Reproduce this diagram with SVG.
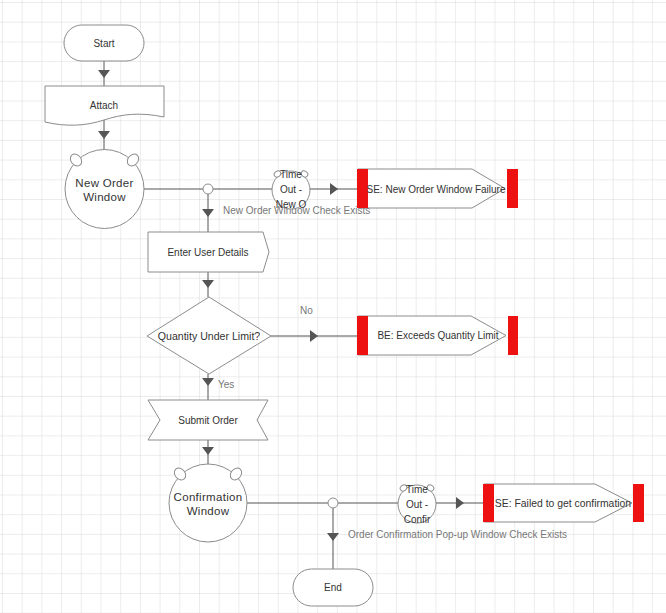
<svg xmlns="http://www.w3.org/2000/svg" width="666" height="613" viewBox="0 0 666 613">
<defs>
<pattern id="grid" x="2" y="2" width="19.7" height="19.7" patternUnits="userSpaceOnUse">
<path d="M0,0 H19.7 M0,0 V19.7" fill="none" stroke="#d9d9d9" stroke-width="1"/>
</pattern>
</defs>
<style>
.shape{fill:#fff;stroke:#8c8c8c;stroke-width:1}
.ear{fill:#fff;stroke:#8c8c8c;stroke-width:1}
.line{fill:none;stroke:#555;stroke-width:1}
.head{fill:#555;stroke:none}
.red{fill:#ee1111;stroke:none}
.t{font-family:"Liberation Sans",Arial,sans-serif;font-size:10px;fill:#333;text-anchor:middle;dominant-baseline:central}
.c{font-size:11.5px;letter-spacing:0.3px}
.lbl{font-family:"Liberation Sans",Arial,sans-serif;font-size:10px;fill:#777;dominant-baseline:central}
</style>
<rect width="666" height="613" fill="#fff"/>
<rect width="666" height="613" fill="url(#grid)"/>

<g id="connectors">
<path class="line" d="M104,61 V88"/>
<polygon class="head" points="98,70 110,70 104,78"/>
<path class="line" d="M104,119 V150"/>
<polygon class="head" points="98,131 110,131 104,139"/>
<path class="line" d="M144,189 H203 M213,189 H272 M310,189 H357"/>
<polygon class="head" points="330,183 338,189 330,195"/>
<path class="line" d="M208,194 V232"/>
<polygon class="head" points="202,209 214,209 208,217"/>
<text class="lbl" x="223" y="210">New Order Window Check Exists</text>
<path class="line" d="M208,272 V297"/>
<polygon class="head" points="202,280 214,280 208,288"/>
<path class="line" d="M271,336 H357"/>
<polygon class="head" points="310,330 318,336 310,342"/>
<text class="lbl" x="300" y="310">No</text>
<path class="line" d="M208,374 V400"/>
<polygon class="head" points="202,378 214,378 208,386"/>
<text class="lbl" x="218" y="384">Yes</text>
<path class="line" d="M208,440 V464"/>
<polygon class="head" points="202,447 214,447 208,455"/>
<path class="line" d="M247,503 H328 M338,503 H398 M436,503 H483"/>
<polygon class="head" points="456,497 464,503 456,509"/>
<path class="line" d="M333,508 V569"/>
<polygon class="head" points="327,533 339,533 333,541"/>
<text class="lbl" x="348" y="534">Order Confirmation Pop-up Window Check Exists</text>
</g>

<g id="start">
<rect class="shape" x="64" y="25" width="80" height="36" rx="18"/>
<text class="t" x="104" y="43">Start</text>
</g>

<g id="attach">
<path class="shape" d="M45,86 H164 V117 C140,112 122,114 104,120 C86,126 66,127 45,122 Z"/>
<text class="t" x="104" y="105">Attach</text>
</g>

<g id="new-order-window">
<circle class="shape" cx="104.5" cy="189" r="39.5"/>
<ellipse class="ear" cx="76" cy="160" rx="5" ry="6.5" transform="rotate(-40 76 160)"/>
<ellipse class="ear" cx="133" cy="160" rx="5" ry="6.5" transform="rotate(40 133 160)"/>
<text class="t c" x="104.5" y="183">New Order</text>
<text class="t c" x="104.5" y="197">Window</text>
</g>

<g id="junction-1">
<circle class="shape" cx="208" cy="189" r="5"/>
</g>

<g id="timeout-1">
<circle class="shape" cx="291" cy="190" r="19"/>
<ellipse class="ear" cx="277.5" cy="174" rx="3.5" ry="2.8" transform="rotate(-35 277.5 174)"/>
<ellipse class="ear" cx="304.5" cy="174" rx="3.5" ry="2.8" transform="rotate(35 304.5 174)"/>
<text class="t" x="291" y="174">Time</text>
<text class="t" x="291" y="189">Out -</text>
<text class="t" x="291" y="204">New O</text>
</g>

<g id="se-new-order-window-failure">
<path class="shape" d="M358,169 H472 L505,188.5 L472,208 H358 Z"/>
<rect class="red" x="357" y="169" width="11" height="39"/>
<rect class="red" x="507" y="169" width="11" height="39"/>
<text class="t" x="436" y="189">SE: New Order Window Failure</text>
</g>

<g id="enter-user-details">
<path class="shape" d="M148,232 H263 L269,252 L263,272 H148 Z"/>
<text class="t" x="208" y="252">Enter User Details</text>
</g>

<g id="quantity-under-limit">
<polygon class="shape" points="209,297 271,336 209,374 147,336"/>
<text class="t" x="209" y="336" style="font-size:10.6px">Quantity Under Limit?</text>
</g>

<g id="be-exceeds-quantity-limit">
<path class="shape" d="M358,316 H471 L506,335.5 L471,355 H358 Z"/>
<rect class="red" x="357" y="316" width="11" height="39"/>
<rect class="red" x="508" y="316" width="10" height="39"/>
<text class="t" x="438" y="335">BE: Exceeds Quantity Limit</text>
</g>

<g id="submit-order">
<path class="shape" d="M148,400 H268 L257,420 L268,440 H148 L160,420 Z"/>
<text class="t" x="208" y="420">Submit Order</text>
</g>

<g id="confirmation-window">
<circle class="shape" cx="208" cy="503" r="39"/>
<ellipse class="ear" cx="180" cy="474" rx="5" ry="6.5" transform="rotate(-40 180 474)"/>
<ellipse class="ear" cx="236" cy="474" rx="5" ry="6.5" transform="rotate(40 236 474)"/>
<text class="t c" x="208" y="497">Confirmation</text>
<text class="t c" x="208" y="511">Window</text>
</g>

<g id="junction-2">
<circle class="shape" cx="333" cy="503" r="5"/>
</g>

<g id="timeout-2">
<circle class="shape" cx="417" cy="504" r="19"/>
<ellipse class="ear" cx="403.5" cy="488" rx="3.5" ry="2.8" transform="rotate(-35 403.5 488)"/>
<ellipse class="ear" cx="430.5" cy="488" rx="3.5" ry="2.8" transform="rotate(35 430.5 488)"/>
<text class="t" x="417" y="489">Time</text>
<text class="t" x="417" y="504">Out -</text>
<text class="t" x="417" y="519">Confir</text>
</g>

<g id="se-failed-to-get-confirmation">
<path class="shape" d="M484,484 H595 L632,503 L595,522 H484 Z"/>
<rect class="red" x="483" y="484" width="11" height="38"/>
<rect class="red" x="633" y="484" width="11" height="38"/>
<text class="t" x="563" y="503" style="font-size:10.4px">SE: Failed to get confirmation</text>
</g>

<g id="end">
<rect class="shape" x="293" y="569" width="80" height="37" rx="18.5"/>
<text class="t" x="333" y="587.5">End</text>
</g>
</svg>
